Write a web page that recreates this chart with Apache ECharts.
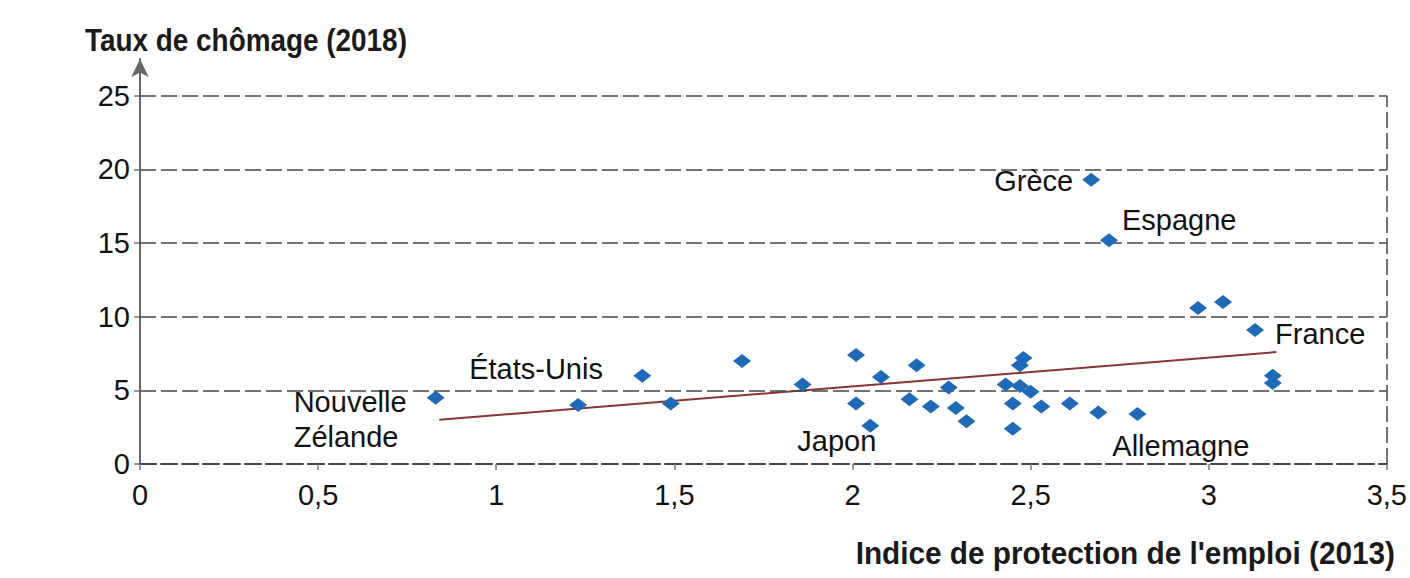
<!DOCTYPE html>
<html>
<head>
<meta charset="utf-8">
<script src="https://cdn.jsdelivr.net/npm/echarts@6/dist/echarts.min.js"></script>
<style>
html,body{margin:0;padding:0;background:#ffffff;}
#chart{width:1410px;height:578px;}
</style>
</head>
<body>
<div id="chart"></div>
<script>
// ---- data ----
const xValues = [0.83, 1.23, 1.41, 1.49, 1.69, 1.86, 2.01, 2.08, 2.18, 2.01, 2.05, 2.16, 2.22, 2.27, 2.29, 2.32, 2.48, 2.47, 2.43, 2.47, 2.50, 2.45, 2.45, 2.53, 2.61, 2.69, 2.80, 2.67, 2.72, 2.97, 3.04, 3.13, 3.18, 3.18];
const yValues = [4.5, 4.0, 6.0, 4.1, 7.0, 5.4, 7.4, 5.9, 6.7, 4.1, 2.6, 4.4, 3.9, 5.2, 3.8, 2.9, 7.2, 6.7, 5.4, 5.3, 4.9, 4.1, 2.4, 3.9, 4.1, 3.5, 3.4, 19.3, 15.2, 10.6, 11.0, 9.1, 6.0, 5.5];
const pointNames = ['Nouvelle\nZélande', 'États-Unis', '', '', '', '', '', '', '', '', 'Japon', '', '', '', '', '', '', '', '', '', '', '', '', '', '', 'Allemagne', '', 'Grèce', 'Espagne', '', '', 'France', '', ''];
const trendX = [0.84, 3.19];
const trendY = [3.0, 7.6];
const yTicks = [0, 5, 10, 15, 20, 25];
const xTicks = [0, 0.5, 1, 1.5, 2, 2.5, 3, 3.5];
const yTitle = 'Taux de chômage (2018)';
const xTitle = "Indice de protection de l'emploi (2013)";

// ---- label placement (style, not data) ----
const labelPlace = {
  'Nouvelle\nZélande': {align: 'left', dx: -142, dy: 22},
  'États-Unis': {align: 'left', dx: -109, dy: -36},
  'Japon': {align: 'left', dx: -73, dy: 15},
  'Allemagne': {align: 'left', dx: 14, dy: 34},
  'Grèce': {align: 'right', dx: -18, dy: 1},
  'Espagne': {align: 'left', dx: 13, dy: -20},
  'France': {align: 'left', dx: 20, dy: 4}
};

const labelFont = "'Liberation Sans', Arial, sans-serif";
const titleFont = "'Liberation Sans', Arial, sans-serif";

const fmt = v => String(v).replace('.', ',');

const scatterData = xValues.map((x, i) => {
  const name = pointNames[i];
  const item = {value: [x, yValues[i]], name: name};
  if (name && labelPlace[name]) {
    const p = labelPlace[name];
    item.label = {
      show: true,
      position: 'inside',
      align: p.align,
      verticalAlign: 'middle',
      offset: [p.dx, p.dy],
      formatter: name,
      color: '#111111',
      fontFamily: labelFont,
      fontSize: 29,
      lineHeight: 35
    };
  }
  return item;
});

const gridLineStyle = {color: '#454545', width: 1.5, type: [16, 5]};

const chart = echarts.init(document.getElementById('chart'), null, {renderer: 'svg'});
chart.setOption({
  backgroundColor: '#ffffff',
  animation: false,
  grid: {left: 140, right: 20, top: 59, bottom: 114},
  xAxis: {
    type: 'value', min: 0, max: 3.5, interval: 0.5,
    axisLine: {show: true, onZero: false, lineStyle: {color: '#454545', width: 2, type: [16, 5]}},
    axisTick: {show: true, length: 6, inside: false, lineStyle: {color: '#777', width: 1.5}, customValues: xTicks},
    axisLabel: {margin: 16, color: '#111111', fontFamily: labelFont, fontSize: 29, formatter: fmt, customValues: xTicks},
    splitLine: {show: false}
  },
  yAxis: {
    type: 'value', min: 0, max: 27.5, interval: 5,
    axisLine: {show: true, onZero: false, symbol: ['none', 'arrow'], symbolSize: [13, 18], lineStyle: {color: '#666', width: 2}},
    axisTick: {show: true, length: 6, lineStyle: {color: '#777', width: 1.5}, customValues: yTicks},
    axisLabel: {margin: 10, color: '#111111', fontFamily: labelFont, fontSize: 29, formatter: v => (v > 25 ? '' : fmt(v)), customValues: yTicks},
    splitLine: {show: false}
  },
  graphic: [
    {type: 'text', x: 85, y: 40, scaleX: 0.9, style: {text: yTitle, x: 0, y: 0, textAlign: 'left', textVerticalAlign: 'middle', fill: '#1a1a1a', font: 'bold 31px ' + titleFont}},
    {type: 'text', x: 1395, y: 553, scaleX: 0.96, style: {text: xTitle, x: 0, y: 0, textAlign: 'right', textVerticalAlign: 'middle', fill: '#1a1a1a', font: 'bold 31px ' + titleFont}}
  ],
  series: [
    {
      type: 'line',
      data: trendX.map((x, i) => [x, trendY[i]]),
      symbol: 'none',
      lineStyle: {color: '#8a3434', width: 2},
      z: 3,
      markLine: {
        silent: true, symbol: 'none', animation: false,
        label: {show: false},
        lineStyle: gridLineStyle,
        data: yTicks.filter(v => v > 0).map(v => [{coord: [0, v]}, {coord: [3.5, v]}])
          .concat([[{coord: [3.5, 0]}, {coord: [3.5, 25]}]])
      }
    },
    {
      type: 'scatter',
      data: scatterData,
      symbol: 'diamond',
      symbolSize: [18, 14],
      itemStyle: {color: '#1f6ab8', opacity: 1},
      label: {show: false},
      z: 5
    }
  ]
});
</script>
</body>
</html>
